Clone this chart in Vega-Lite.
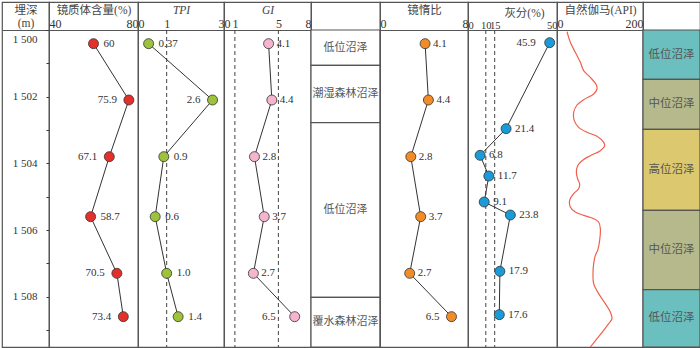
{
  "$schema": "https://vega.github.io/schema/vega-lite/v6.json",
  "padding": {"left": 1, "top": 1, "right": 0, "bottom": 0},
  "background": "white",
  "spacing": 0,
  "bounds": "flush",
  "datasets": {
    "coal": [
      {"depth": 1500.41, "vit": 60, "tpi": 0.37, "tpiLabel": "0.37", "gi": 4.1, "vi": 4.1},
      {"depth": 1502.1, "vit": 75.9, "tpi": 2.6, "tpiLabel": "2.6", "gi": 4.4, "vi": 4.4},
      {"depth": 1503.8, "vit": 67.1, "tpi": 0.9, "tpiLabel": "0.9", "gi": 2.8, "vi": 2.8},
      {"depth": 1505.6, "vit": 58.7, "tpi": 0.6, "tpiLabel": "0.6", "gi": 3.7, "vi": 3.7},
      {"depth": 1507.3, "vit": 70.5, "tpi": 1.0, "tpiLabel": "1.0", "gi": 2.7, "vi": 2.7},
      {"depth": 1508.6, "vit": 73.4, "tpi": 1.4, "tpiLabel": "1.4", "gi": 6.5, "vi": 6.5}
    ],
    "ash": [
      {"depth": 1500.38, "ash": 45.9},
      {"depth": 1502.96, "ash": 21.4},
      {"depth": 1503.76, "ash": 6.8},
      {"depth": 1504.38, "ash": 11.7},
      {"depth": 1505.16, "ash": 9.1},
      {"depth": 1505.55, "ash": 23.8},
      {"depth": 1507.24, "ash": 17.9},
      {"depth": 1508.54, "ash": 17.6}
    ],
    "refLines": [
      {"col": "tpi", "v": 1, "depth": 1500}, {"col": "tpi", "v": 1, "depth": 1509.51},
      {"col": "gi", "v": 1, "depth": 1500}, {"col": "gi", "v": 1, "depth": 1509.51},
      {"col": "gi", "v": 5, "depth": 1500}, {"col": "gi", "v": 5, "depth": 1509.51},
      {"col": "ash", "v": 10, "depth": 1500}, {"col": "ash", "v": 10, "depth": 1509.51},
      {"col": "ash", "v": 15, "depth": 1500}, {"col": "ash", "v": 15, "depth": 1509.51}
    ],
    "gr": [
      {"depth": 1500.05, "gr": 23.3}, {"depth": 1500.37, "gr": 31.0}, {"depth": 1500.67, "gr": 42.6},
      {"depth": 1500.97, "gr": 54.3}, {"depth": 1501.22, "gr": 62.0}, {"depth": 1501.42, "gr": 77.5},
      {"depth": 1501.65, "gr": 91.5}, {"depth": 1501.77, "gr": 93.0}, {"depth": 1501.92, "gr": 85.3},
      {"depth": 1502.09, "gr": 62.0}, {"depth": 1502.25, "gr": 46.5}, {"depth": 1502.47, "gr": 38.8},
      {"depth": 1502.72, "gr": 40.3}, {"depth": 1502.92, "gr": 50.4}, {"depth": 1503.07, "gr": 69.8},
      {"depth": 1503.19, "gr": 93.0}, {"depth": 1503.37, "gr": 108.5}, {"depth": 1503.47, "gr": 110.9},
      {"depth": 1503.62, "gr": 100.8}, {"depth": 1503.77, "gr": 77.5}, {"depth": 1503.92, "gr": 58.1},
      {"depth": 1504.07, "gr": 48.1}, {"depth": 1504.27, "gr": 45.0}, {"depth": 1504.47, "gr": 48.1},
      {"depth": 1504.62, "gr": 52.7}, {"depth": 1504.76, "gr": 50.4}, {"depth": 1504.91, "gr": 38.8},
      {"depth": 1505.11, "gr": 29.5}, {"depth": 1505.31, "gr": 31.0}, {"depth": 1505.46, "gr": 42.6},
      {"depth": 1505.56, "gr": 62.0}, {"depth": 1505.66, "gr": 85.3}, {"depth": 1505.76, "gr": 96.9},
      {"depth": 1505.96, "gr": 100.8}, {"depth": 1506.31, "gr": 99.2}, {"depth": 1506.61, "gr": 94.6},
      {"depth": 1506.76, "gr": 89.1}, {"depth": 1507.01, "gr": 85.3}, {"depth": 1507.31, "gr": 83.7},
      {"depth": 1507.61, "gr": 85.3}, {"depth": 1507.91, "gr": 96.9}, {"depth": 1508.21, "gr": 112.4},
      {"depth": 1508.46, "gr": 124.0}, {"depth": 1508.66, "gr": 127.9}, {"depth": 1508.81, "gr": 120.2},
      {"depth": 1509.01, "gr": 108.5}, {"depth": 1509.26, "gr": 93.0}, {"depth": 1509.51, "gr": 77.5}
    ],
    "facies": [
      {"id": 1, "top": 1500, "bottom": 1501.06, "name": "低位沼泽"},
      {"id": 2, "top": 1501.06, "bottom": 1502.78, "name": "潮湿森林沼泽"},
      {"id": 3, "top": 1502.78, "bottom": 1508.02, "name": "低位沼泽"},
      {"id": 4, "top": 1508.02, "bottom": 1509.51, "name": "覆水森林沼泽"}
    ],
    "swamp": [
      {"id": 1, "top": 1500, "bottom": 1501.48, "name": "低位沼泽"},
      {"id": 2, "top": 1501.48, "bottom": 1502.98, "name": "中位沼泽"},
      {"id": 3, "top": 1502.98, "bottom": 1505.41, "name": "高位沼泽"},
      {"id": 4, "top": 1505.41, "bottom": 1507.79, "name": "中位沼泽"},
      {"id": 5, "top": 1507.79, "bottom": 1509.51, "name": "低位沼泽"}
    ]
  },
  "config": {
    "view": {"stroke": "#555", "strokeWidth": 1.2},
    "font": "Liberation Serif, Noto Sans CJK SC",
    "axis": {"grid": false, "domainColor": "#555", "domainWidth": 1.2, "labelColor": "#333", "titleColor": "#444", "titleFontWeight": "normal", "titleFontSize": 11.5, "labelFontSize": 12, "labelFont": "Liberation Serif, Noto Sans CJK SC", "titleFont": "Liberation Serif, Noto Sans CJK SC"},
    "axisX": {"ticks": false, "labelPadding": 0, "labelFlush": true, "labelOverlap": false, "labelBound": false, "titlePadding": 2},
    "text": {"font": "Liberation Serif, Noto Sans CJK SC", "fontSize": 11, "color": "#333"}
  },
  "hconcat": [
    {
      "width": 47, "height": 345,
      "data": {"name": "coal"},
      "mark": {"type": "point", "opacity": 0},
      "encoding": {
        "x": {"datum": 0.5, "type": "quantitative", "scale": {"domain": [0, 1]},
          "axis": {"orient": "top", "offset": -28, "labels": false, "title": ["埋深", "(m)"], "titleLineHeight": 12.5, "titlePadding": 2}},
        "y": {"field": "depth", "type": "quantitative",
          "scale": {"domain": [1499.16, 1509.51], "reverse": true, "nice": false, "zero": false},
          "axis": {"orient": "left", "offset": -47, "domain": false, "values": [1500, 1501, 1502, 1503, 1504, 1505, 1506, 1507, 1508, 1509],
            "tickSize": 3, "tickColor": "#333", "tickWidth": 1, "labelPadding": 9, "labelFontSize": 11, "labelOverlap": false,
            "labelExpr": "datum.value % 2 == 0 ? '1 ' + substring(toString(datum.value), 1) : ''",
            "labelOffset": {"condition": {"test": "datum.value == 1500", "value": 9}, "value": 0},
            "title": null}}
      }
    },
    {
      "width": 89, "height": 345,
      "data": {"name": "coal"},
      "encoding": {
        "x": {"field": "vit", "type": "quantitative", "scale": {"domain": [40, 80], "nice": false, "zero": false},
          "axis": {"orient": "top", "offset": -28, "values": [40, 80], "title": "镜质体含量(%)"}},
        "y": {"field": "depth", "type": "quantitative", "scale": {"domain": [1499.16, 1509.51], "reverse": true, "nice": false, "zero": false}, "axis": null}
      },
      "layer": [
        {"mark": {"type": "line", "color": "#333", "strokeWidth": 1}, "encoding": {"order": {"field": "depth"}}},
        {"mark": {"type": "point", "shape": "circle", "filled": true, "size": 100, "fill": "#E3302B", "stroke": "#333", "strokeWidth": 0.8, "opacity": 1}},
        {"transform": [{"filter": "datum.vit <= 65"}], "mark": {"type": "text", "align": "left", "dx": 10}, "encoding": {"text": {"field": "vit", "type": "nominal"}}},
        {"transform": [{"filter": "datum.vit > 65"}], "mark": {"type": "text", "align": "right", "dx": -12}, "encoding": {"text": {"field": "vit", "type": "nominal"}}}
      ]
    },
    {
      "width": 86, "height": 345,
      "data": {"name": "coal"},
      "resolve": {"axis": {"x": "independent"}},
      "encoding": {
        "x": {"field": "tpi", "type": "quantitative", "scale": {"domain": [0, 3], "nice": false, "zero": false}, "axis": null},
        "y": {"field": "depth", "type": "quantitative", "scale": {"domain": [1499.16, 1509.51], "reverse": true, "nice": false, "zero": false}, "axis": null}
      },
      "layer": [
        {"data": {"name": "refLines"}, "transform": [{"filter": "datum.col == 'tpi'"}],
          "mark": {"type": "line", "strokeDash": [4, 3], "color": "#444", "strokeWidth": 1},
          "encoding": {
            "x": {"field": "v", "type": "quantitative", "axis": null},
            "detail": {"field": "v", "type": "nominal"},
            "order": {"field": "depth"}}},
        {"mark": {"type": "line", "color": "#333", "strokeWidth": 1},
          "encoding": {
            "x": {"field": "tpi", "type": "quantitative", "axis": {"orient": "top", "offset": -28, "values": [0, 1, 3], "title": "TPI", "titleFontStyle": "italic"}},
            "order": {"field": "depth"}}},
        {"mark": {"type": "point", "shape": "circle", "filled": true, "size": 100, "fill": "#9DC23B", "stroke": "#333", "strokeWidth": 0.8, "opacity": 1}},
        {"transform": [{"filter": "datum.tpi <= 2"}], "mark": {"type": "text", "align": "left", "dx": 10}, "encoding": {"text": {"field": "tpiLabel", "type": "nominal"}}},
        {"transform": [{"filter": "datum.tpi > 2"}], "mark": {"type": "text", "align": "right", "dx": -12}, "encoding": {"text": {"field": "tpiLabel", "type": "nominal"}}}
      ]
    },
    {
      "width": 87, "height": 345,
      "data": {"name": "coal"},
      "resolve": {"axis": {"x": "independent"}},
      "encoding": {
        "x": {"field": "gi", "type": "quantitative", "scale": {"domain": [0, 8], "nice": false, "zero": false}, "axis": null},
        "y": {"field": "depth", "type": "quantitative", "scale": {"domain": [1499.16, 1509.51], "reverse": true, "nice": false, "zero": false}, "axis": null}
      },
      "layer": [
        {"data": {"name": "refLines"}, "transform": [{"filter": "datum.col == 'gi'"}],
          "mark": {"type": "line", "strokeDash": [4, 3], "color": "#444", "strokeWidth": 1},
          "encoding": {
            "x": {"field": "v", "type": "quantitative", "axis": null},
            "detail": {"field": "v", "type": "nominal"},
            "order": {"field": "depth"}}},
        {"mark": {"type": "line", "color": "#333", "strokeWidth": 1},
          "encoding": {
            "x": {"field": "gi", "type": "quantitative", "axis": {"orient": "top", "offset": -28, "values": [0, 1, 5, 8], "title": "GI", "titleFontStyle": "italic"}},
            "order": {"field": "depth"}}},
        {"mark": {"type": "point", "shape": "circle", "filled": true, "size": 100, "fill": "#F5B5CF", "stroke": "#333", "strokeWidth": 0.8, "opacity": 1}},
        {"transform": [{"filter": "datum.gi <= 6"}], "mark": {"type": "text", "align": "left", "dx": 8}, "encoding": {"text": {"field": "gi", "type": "nominal"}}},
        {"transform": [{"filter": "datum.gi > 6"}], "mark": {"type": "text", "align": "right", "dx": -19}, "encoding": {"text": {"field": "gi", "type": "nominal"}}}
      ]
    },
    {
      "width": 69, "height": 345,
      "data": {"name": "facies"},
      "layer": [
        {"mark": {"type": "rect", "fill": "white", "stroke": "#555", "strokeWidth": 1.2},
          "encoding": {
            "x": {"datum": 0, "type": "quantitative", "scale": {"domain": [0, 1]},
              "axis": {"orient": "top", "offset": -28, "values": [0.5], "labelExpr": "'（基于煤相指标）'", "labelFontSize": 8.5, "labelFlush": false, "title": "沼泽分类", "titlePadding": 4}},
            "x2": {"datum": 1},
            "y": {"field": "top", "type": "quantitative", "scale": {"domain": [1499.16, 1509.51], "reverse": true, "nice": false, "zero": false}, "axis": null},
            "y2": {"field": "bottom"}
          }},
        {"transform": [{"fold": ["top", "bottom"], "as": ["edge", "d"]}, {"aggregate": [{"op": "mean", "field": "d", "as": "mid"}], "groupby": ["id", "name"]}],
          "mark": {"type": "text", "fontSize": 11, "color": "#555", "font": "Noto Sans CJK SC"},
          "encoding": {
            "x": {"datum": 0.5, "type": "quantitative", "scale": {"domain": [0, 1]}, "axis": null},
            "y": {"field": "mid", "type": "quantitative", "scale": {"domain": [1499.16, 1509.51], "reverse": true, "nice": false, "zero": false}, "axis": null},
            "text": {"field": "name", "type": "nominal"}
          }}
      ]
    },
    {
      "width": 88, "height": 345,
      "data": {"name": "coal"},
      "encoding": {
        "x": {"field": "vi", "type": "quantitative", "scale": {"domain": [0, 8], "nice": false, "zero": false},
          "axis": {"orient": "top", "offset": -28, "values": [0, 8], "title": "镜惰比"}},
        "y": {"field": "depth", "type": "quantitative", "scale": {"domain": [1499.16, 1509.51], "reverse": true, "nice": false, "zero": false}, "axis": null}
      },
      "layer": [
        {"mark": {"type": "line", "color": "#333", "strokeWidth": 1}, "encoding": {"order": {"field": "depth"}}},
        {"mark": {"type": "point", "shape": "circle", "filled": true, "size": 100, "fill": "#F28C28", "stroke": "#333", "strokeWidth": 0.8, "opacity": 1}},
        {"transform": [{"filter": "datum.vi <= 6"}], "mark": {"type": "text", "align": "left", "dx": 8}, "encoding": {"text": {"field": "vi", "type": "nominal"}}},
        {"transform": [{"filter": "datum.vi > 6"}], "mark": {"type": "text", "align": "right", "dx": -12}, "encoding": {"text": {"field": "vi", "type": "nominal"}}}
      ]
    },
    {
      "width": 89, "height": 345,
      "data": {"name": "ash"},
      "resolve": {"axis": {"x": "independent"}},
      "encoding": {
        "x": {"field": "ash", "type": "quantitative", "scale": {"domain": [0, 50], "nice": false, "zero": false}, "axis": null},
        "y": {"field": "depth", "type": "quantitative", "scale": {"domain": [1499.16, 1509.51], "reverse": true, "nice": false, "zero": false}, "axis": null}
      },
      "layer": [
        {"data": {"name": "refLines"}, "transform": [{"filter": "datum.col == 'ash'"}],
          "mark": {"type": "line", "strokeDash": [4, 3], "color": "#444", "strokeWidth": 1},
          "encoding": {
            "x": {"field": "v", "type": "quantitative", "axis": null},
            "detail": {"field": "v", "type": "nominal"},
            "order": {"field": "depth"}}},
        {"mark": {"type": "line", "color": "#333", "strokeWidth": 1},
          "encoding": {
            "x": {"field": "ash", "type": "quantitative", "axis": {"orient": "top", "offset": -28, "values": [0, 10, 15, 50], "title": "灰分(%)", "titleX": 56, "labelFontSize": 10.5}},
            "order": {"field": "depth"}}},
        {"mark": {"type": "point", "shape": "circle", "filled": true, "size": 100, "fill": "#1A9AD6", "stroke": "#333", "strokeWidth": 0.8, "opacity": 1}},
        {"transform": [{"filter": "datum.ash <= 40"}], "mark": {"type": "text", "align": "left", "dx": 9}, "encoding": {"text": {"field": "ash", "type": "nominal"}}},
        {"transform": [{"filter": "datum.ash > 40"}], "mark": {"type": "text", "align": "right", "dx": -14}, "encoding": {"text": {"field": "ash", "type": "nominal"}}}
      ]
    },
    {
      "width": 86, "height": 345,
      "data": {"name": "gr"},
      "mark": {"type": "line", "color": "#F0604D", "strokeWidth": 1.2, "interpolate": "catmull-rom"},
      "encoding": {
        "x": {"field": "gr", "type": "quantitative", "scale": {"domain": [0, 200], "nice": false, "zero": false},
          "axis": {"orient": "top", "offset": -28, "values": [0, 200], "title": "自然伽马(API)"}},
        "y": {"field": "depth", "type": "quantitative", "scale": {"domain": [1499.16, 1509.51], "reverse": true, "nice": false, "zero": false}, "axis": null},
        "order": {"field": "depth"}
      }
    },
    {
      "width": 57, "height": 345,
      "data": {"name": "swamp"},
      "layer": [
        {"mark": {"type": "rect", "stroke": "#555", "strokeWidth": 1.2, "opacity": 1},
          "encoding": {
            "x": {"datum": 0, "type": "quantitative", "scale": {"domain": [0, 1]},
              "axis": {"orient": "top", "offset": -28, "values": [0.5], "labelExpr": "'（本文建议）'", "labelFontSize": 8.5, "labelFlush": false, "title": "沼泽分类", "titlePadding": 4}},
            "x2": {"datum": 1},
            "y": {"field": "top", "type": "quantitative", "scale": {"domain": [1499.16, 1509.51], "reverse": true, "nice": false, "zero": false}, "axis": null},
            "y2": {"field": "bottom"},
            "color": {"field": "name", "type": "nominal", "scale": {"domain": ["低位沼泽", "中位沼泽", "高位沼泽"], "range": ["#6BBFBF", "#B5B98B", "#DCC96F"]}, "legend": null}
          }},
        {"transform": [{"fold": ["top", "bottom"], "as": ["edge", "d"]}, {"aggregate": [{"op": "mean", "field": "d", "as": "mid"}], "groupby": ["id", "name"]}],
          "mark": {"type": "text", "fontSize": 11.5, "color": "#555", "font": "Noto Sans CJK SC"},
          "encoding": {
            "x": {"datum": 0.5, "type": "quantitative", "scale": {"domain": [0, 1]}, "axis": null},
            "y": {"field": "mid", "type": "quantitative", "scale": {"domain": [1499.16, 1509.51], "reverse": true, "nice": false, "zero": false}, "axis": null},
            "text": {"field": "name", "type": "nominal"}
          }}
      ]
    }
  ]
}
